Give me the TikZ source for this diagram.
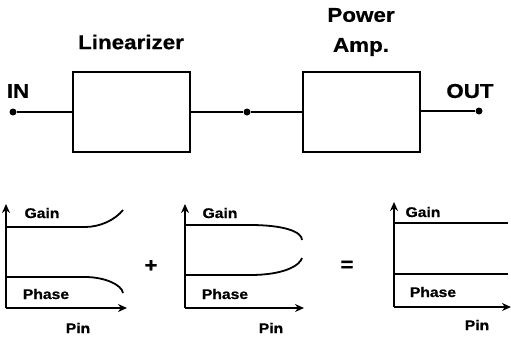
\documentclass[tikz,border=0pt]{standalone}
\usepackage{fontspec}
\setmainfont{Liberation Sans}[FakeStretch=1.12, BoldFeatures={FakeBold=0.6}]
\usetikzlibrary{arrows.meta}

\begin{document}
\begin{tikzpicture}[x=1pt, y=-1pt,
    block/.style={draw, line width=2pt, minimum width=117pt, minimum height=80pt, inner sep=0pt},
    port/.style={circle, fill=black, inner sep=0pt, minimum size=7pt},
    wire/.style={line width=1.8pt},
    big/.style={font=\fontsize{20}{30}\selectfont\bfseries},
    small/.style={font=\fontsize{14}{16}\selectfont\bfseries},
    axis/.style={line width=1.8pt, -{Stealth[length=9pt, width=8pt]}},
    curve/.style={line width=1.8pt}
]
\useasboundingbox (0,0) rectangle (511,338);

% Block diagram
\node[port] (in) at (13,112) {};
\node[big] (inlabel) at (18,91) {IN};
\node[block] (lin) at (131.5,112) {};
\node[big] (linlabel) at (131,42) {Linearizer};
\node[port] (mid) at (247,112) {};
\node[block] (pa) at (361.5,112) {};
\node[big, align=center] (palabel) at (361,32) {Power\\Amp.};
\node[port] (out) at (479,111) {};
\node[big] (outlabel) at (470,91) {OUT};

\draw[wire] (in) -- (lin.west);
\draw[wire] (lin.east) -- (mid) -- (pa.west);
\draw[wire] (pa.east |- out) -- (out);

% Linearizer characteristic
\coordinate (o1) at (6,308);
\draw[axis] (o1) -- (6,204);
\draw[axis] (o1) -- (127,308);
\draw[curve] (6,227) -- (85,227) .. controls (100,227) and (115,220) .. (123,210);
\draw[curve] (6,277) -- (85,277) .. controls (105,277) and (122,285) .. (123,293);
\node[small] (g1) at (42,213) {Gain};
\node[small] (p1) at (46,294) {Phase};
\node[small] (n1) at (78,328) {Pin};

\node[big] (plus) at (151,266) {+};

% Power amplifier characteristic
\coordinate (o2) at (185,308);
\draw[axis] (o2) -- (185,204);
\draw[axis] (o2) -- (304,308);
\draw[curve] (185,225) -- (250,225) .. controls (285,225) and (302,232) .. (302,240);
\draw[curve] (185,275) -- (250,275) .. controls (285,275) and (300,265) .. (302,258);
\node[small] (g2) at (220,213) {Gain};
\node[small] (p2) at (225,294) {Phase};
\node[small] (n2) at (271,328) {Pin};

\node[big] (equal) at (347,266) {=};

% Linearized result
\coordinate (o3) at (394,307);
\draw[axis] (o3) -- (394,202);
\draw[axis] (o3) -- (511,307);
\draw[curve] (394,223) -- (508,223);
\draw[curve] (394,274) -- (508,274);
\node[small] (g3) at (423,212) {Gain};
\node[small] (p3) at (433,292) {Phase};
\node[small] (n3) at (477,325) {Pin};

\end{tikzpicture}
\end{document}
